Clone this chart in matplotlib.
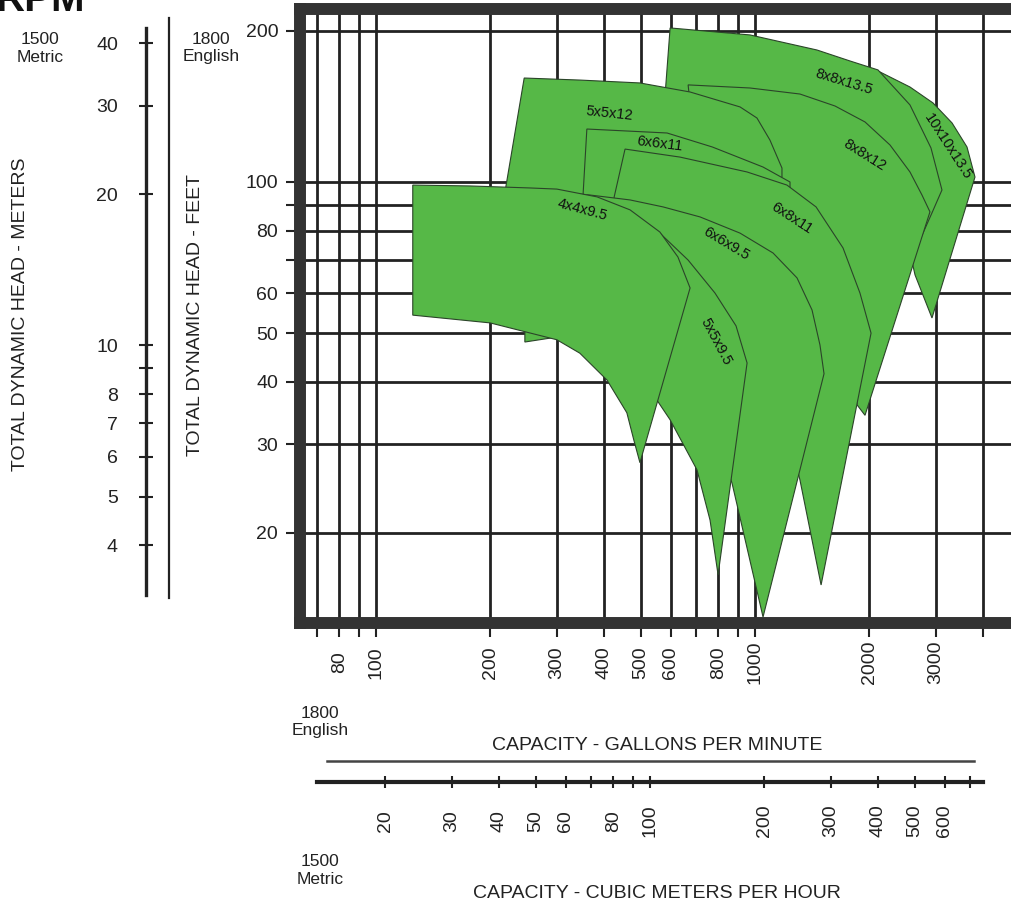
import matplotlib
matplotlib.use("Agg")
import matplotlib.pyplot as plt
from matplotlib.lines import Line2D

# ---- axis scales -------------------------------------------------------
gpm_ticks = [70, 80, 90, 100, 200, 300, 400, 500, 600, 700, 800, 900, 1000, 2000, 3000, 4000]
gpm_labels = ["", "80", "", "100", "200", "300", "400", "500", "600", "", "800", "", "1000", "2000", "3000", ""]
ft_ticks = [20, 30, 40, 50, 60, 70, 80, 90, 100, 200]
ft_labels = ["20", "30", "40", "50", "60", "", "80", "", "100", "200"]
m_ticks = [4, 5, 6, 7, 8, 9, 10, 20, 30, 40]
m_labels = ["4", "5", "6", "7", "8", "", "10", "20", "30", "40"]
m3h_ticks = [20, 30, 40, 50, 60, 70, 80, 90, 100, 200, 300, 400, 500, 600, 700]
m3h_labels = ["20", "30", "40", "50", "60", "", "80", "", "100", "200", "300", "400", "500", "600", ""]

# ---- pump coverage outlines (gpm, ft) ----------------------------------
p10x10x135_gpm = [1781, 2111, 2564, 2949, 3311, 3626, 3806, 2931, 2644, 2488, 2271, 1892]
p10x10x135_ft = [165.7, 166.4, 154.6, 143.7, 131.1, 117.4, 102.3, 53.6, 65.3, 80.2, 115.8, 152.5]

p8x8x135_gpm = [597, 970, 1457, 1781, 2111, 2564, 2913, 3114, 2931, 2137, 1781, 1164, 716, 579]
p8x8x135_ft = [202.7, 196.3, 183.2, 174.2, 167.2, 142.4, 116.9, 96.4, 86.8, 50.7, 73.2, 115.8, 145.7, 149.0]

p8x8x12_gpm = [666, 970, 1314, 1626, 1951, 2271, 2564, 2758, 2895, 1951, 1858, 1892, 1577, 1237, 716, 669]
p8x8x12_ft = [156.1, 153.9, 149.7, 141.7, 131.7, 118.5, 104.7, 94.2, 87.2, 34.3, 36.0, 50.7, 73.2, 94.2, 105.7, 151.1]

p5x5x12_gpm = [246, 345, 497, 674, 913, 1012, 1095, 1178, 1178, 1031, 440, 212, 220]
p5x5x12_ft = [161.1, 159.6, 157.5, 151.1, 141.1, 134.1, 121.2, 106.6, 102.3, 92.1, 86.0, 86.0, 97.7]

p6x6x11_gpm = [360, 586, 772, 1050, 1237, 1237, 528, 352, 352]
p6x6x11_ft = [127.5, 125.2, 117.4, 107.1, 100.0, 92.1, 86.0, 90.0, 95.1]

p6x8x11_gpm = [454, 634, 953, 1214, 1449, 1707, 1892, 2024, 1494, 1314, 1164, 970, 716, 497, 419, 425]
p6x8x11_ft = [116.3, 112.1, 104.7, 98.6, 89.2, 73.9, 60.1, 50.0, 15.75, 25.5, 36.8, 50.7, 66.8, 79.5, 82.1, 93.4]

p6x6x95_gpm = [345, 367, 468, 572, 716, 913, 1116, 1291, 1414, 1484, 1521, 1050, 870, 738, 634, 497, 367, 345]
p6x6x95_ft = [94.6, 94.2, 92.1, 89.2, 85.2, 79.1, 72.2, 64.4, 55.6, 47.35, 41.5, 13.6, 25.1, 36.8, 46.3, 55.6, 60.9, 60.9]

p5x5x95_gpm = [247, 345, 468, 561, 666, 784, 891, 953, 799, 761, 703, 597, 497, 390, 300, 247]
p5x5x95_ft = [90.8, 89.6, 85.2, 79.1, 69.9, 60.1, 51.7, 43.6, 16.5, 21.2, 26.7, 33.6, 41.3, 46.3, 49.1, 48.0]

p4x4x95_gpm = [125, 177, 255, 300, 383, 468, 561, 626, 674, 497, 479, 459, 407, 345, 300, 200, 125]
p4x4x95_ft = [98.6, 98.2, 97.3, 96.8, 93.4, 88.0, 79.5, 70.9, 61.5, 27.6, 30.6, 34.7, 40.3, 45.6, 48.5, 52.4, 54.3]

# name, outline, label position (gpm, ft), label angle -- back to front
pumps = [
    ("10x10x13.5", p10x10x135_gpm, p10x10x135_ft, 3230, 117.4, -57),
    ("8x8x13.5", p8x8x135_gpm, p8x8x135_ft, 1717, 158.2, -17),
    ("8x8x12", p8x8x12_gpm, p8x8x12_ft, 1951, 113.2, -32),
    ("5x5x12", p5x5x12_gpm, p5x5x12_ft, 414, 137.2, -6),
    ("6x6x11", p6x6x11_gpm, p6x6x11_ft, 561, 119.0, -7),
    ("6x8x11", p6x8x11_gpm, p6x8x11_ft, 1252, 84.8, -33),
    ("6x6x9.5", p6x6x95_gpm, p6x6x95_ft, 838, 75.2, -31),
    ("5x5x9.5", p5x5x95_gpm, p5x5x95_ft, 789, 48.0, -62),
    ("4x4x9.5", p4x4x95_gpm, p4x4x95_ft, 350, 88.0, -15),
]

FT_PER_M = 3.2808 * 1.44        # 1500 rpm metres -> 1800 rpm feet
M3H_PER_GPM = 0.2271247 / 1.2   # 1800 rpm gpm -> 1500 rpm m3/h
GPM_LIM = (63.0, 4795)
FT_LIM = (13.23, 221.1)

GREEN = "#56b847"
DARK = "#222222"
FRAME = "#333333"

plt.rcParams["font.family"] = ["Liberation Sans", "DejaVu Sans"]

W, H = 1011, 909
fig = plt.figure(figsize=(W / 100, H / 100), dpi=100)


def fx(px):
    return px / W


def fy(py):
    return 1 - py / H


# ---- main chart ---------------------------------------------------------
ax = fig.add_axes([fx(300), fy(623), fx(1013) - fx(300), fy(9) - fy(623)])
ax.set_xscale("log")
ax.set_yscale("log")
ax.set_xlim(*GPM_LIM)
ax.set_ylim(*FT_LIM)

for z, (name, g, f, lg, lf, rot) in enumerate(pumps):
    ax.fill(g, f, facecolor=GREEN, edgecolor="#2b4429", linewidth=0.8, zorder=2 + z)
    ax.text(lg, lf, name, rotation=rot, rotation_mode="anchor", ha="center", va="center",
            fontsize=10.5, color="#111111", zorder=30)

ax.set_xticks(gpm_ticks, gpm_labels, rotation=90, va="center")
ax.set_xticks([], minor=True)
ax.set_yticks(ft_ticks, ft_labels)
ax.set_yticks([], minor=True)
ax.tick_params(axis="both", direction="out", length=10, width=1.5, color=DARK,
               labelsize=14, labelcolor=DARK)
ax.tick_params(axis="x", pad=18.5)
ax.tick_params(axis="y", pad=5.7)
ax.grid(True, color=DARK, linewidth=2.0)
ax.set_axisbelow(True)
for s in ax.spines.values():
    s.set_color(FRAME)
    s.set_linewidth(8.6)

# ---- metric head scale --------------------------------------------------
axm = fig.add_axes([fx(146), fy(623), 0.0005, fy(9) - fy(623)])
axm.set_yscale("log")
axm.set_ylim(FT_LIM[0] / FT_PER_M, FT_LIM[1] / FT_PER_M)
axm.patch.set_visible(False)
for s in ["top", "right", "bottom"]:
    axm.spines[s].set_visible(False)
axm.spines["left"].set_bounds(15.04 / FT_PER_M, 202.7 / FT_PER_M)
axm.spines["left"].set_linewidth(2.4)
axm.spines["left"].set_color(DARK)
axm.set_xticks([])
axm.set_yticks(m_ticks, m_labels)
axm.set_yticks([], minor=True)
axm.tick_params(axis="y", direction="inout", length=9.4, width=1.5, color=DARK,
                pad=15.5, labelsize=14, labelcolor=DARK)

# plain rule beside the feet scale
fig.add_artist(Line2D([fx(169), fx(169)], [fy(18), fy(598)], transform=fig.transFigure,
                      color=DARK, linewidth=1.6))

# ---- metric capacity scale ---------------------------------------------
axq = fig.add_axes([fx(300), fy(782), fx(1013) - fx(300), 0.0005])
axq.set_xscale("log")
axq.set_xlim(GPM_LIM[0] * M3H_PER_GPM, GPM_LIM[1] * M3H_PER_GPM)
axq.patch.set_visible(False)
for s in ["top", "right", "left"]:
    axq.spines[s].set_visible(False)
axq.spines["bottom"].set_bounds(69.9 * M3H_PER_GPM, 3997 * M3H_PER_GPM)
axq.spines["bottom"].set_linewidth(3.0)
axq.spines["bottom"].set_color(DARK)
axq.set_yticks([])
axq.set_xticks(m3h_ticks, m3h_labels, rotation=90, va="center")
axq.set_xticks([], minor=True)
axq.tick_params(axis="x", direction="inout", length=8.6, width=1.5, color=DARK,
                pad=23.7, labelsize=14, labelcolor=DARK)

fig.add_artist(Line2D([fx(327), fx(974)], [fy(761), fy(761)], transform=fig.transFigure,
                      color="#444444", linewidth=1.8))

# ---- titles -------------------------------------------------------------
fig.text(fx(657), fy(745), "CAPACITY - GALLONS PER MINUTE", ha="center", va="center",
         fontsize=14, color=DARK)
fig.text(fx(657), fy(893), "CAPACITY - CUBIC METERS PER HOUR", ha="center", va="center",
         fontsize=14, color=DARK)
fig.text(fx(21), fy(314), "TOTAL DYNAMIC HEAD - METERS", rotation=90, ha="center",
         va="center", fontsize=14, color=DARK)
fig.text(fx(195), fy(315), "TOTAL DYNAMIC HEAD - FEET", rotation=90, ha="center",
         va="center", fontsize=14, color=DARK)

fig.text(fx(40), fy(49), "1500\nMetric", ha="center", va="center", fontsize=12.5,
         linespacing=1.25, color=DARK)
fig.text(fx(211), fy(48), "1800\nEnglish", ha="center", va="center", fontsize=12.5,
         linespacing=1.25, color=DARK)
fig.text(fx(320), fy(722), "1800\nEnglish", ha="center", va="center", fontsize=12.5,
         linespacing=1.25, color=DARK)
fig.text(fx(320), fy(870), "1500\nMetric", ha="center", va="center", fontsize=12.5,
         linespacing=1.25, color=DARK)

# heading clipped by the top edge of the page, as in the source sheet
fig.text(fx(85), fy(11), "RPM", ha="right", va="baseline", fontsize=29,
         fontweight="bold", color="#111111")

fig.savefig("out.png", dpi=100)
